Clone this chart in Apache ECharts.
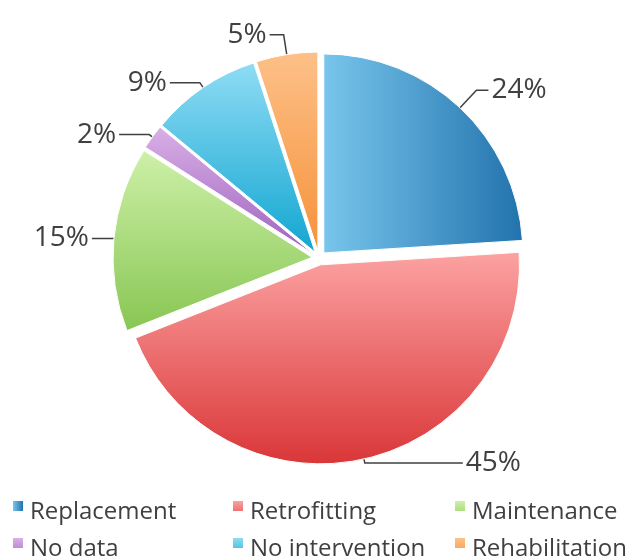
<!DOCTYPE html>
<html>
<head>
<meta charset="utf-8">
<script src="https://cdn.jsdelivr.net/npm/echarts@6/dist/echarts.min.js"></script>
<style>
  html, body { margin: 0; padding: 0; background: #fff; }
  #chart { width: 632px; height: 560px; }
</style>
</head>
<body>
<div id="chart"></div>
<script>
// Intervention categories and their shares (percent)
const categories = ['Replacement', 'Retrofitting', 'Maintenance', 'No data', 'No intervention', 'Rehabilitation'];
const shares = [24, 45, 15, 2, 9, 5];

// Gradient stops per slice: [light, dark, horizontal?]
const fills = [
  ['#78c6ec', '#2272ad', true],
  ['#fca2a2', '#da3638', false],
  ['#cdf0a8', '#88c653', false],
  ['#d9b0e6', '#9e62bf', false],
  ['#8fdcf4', '#12a6d1', false],
  ['#fdc088', '#f5923a', false]
];

// Leader line lengths per slice: [radial, horizontal]
const leaders = [
  [24, 12],
  [4, 98],
  [2, 20],
  [4, 30],
  [6, 30],
  [20, 14]
];

// Legend grid: which categories sit in each column (top row, bottom row)
const legendColumns = [
  [categories[0], categories[3]],
  [categories[1], categories[4]],
  [categories[2], categories[5]]
];

function gradient(f) {
  return new echarts.graphic.LinearGradient(0, 0, f[2] ? 1 : 0, f[2] ? 0 : 1, [
    { offset: 0, color: f[0] },
    { offset: 1, color: f[1] }
  ]);
}

const data = categories.map((name, i) => ({
  name: name,
  value: shares[i],
  selected: true,
  itemStyle: { color: gradient(fills[i]) },
  labelLine: { length: leaders[i][0], length2: leaders[i][1] }
}));

const textColor = '#404040';
const fontFamily = '"Open Sans", sans-serif';

// Square marker that sits in the upper part of the legend item box
const legendIcon = 'path://M0,0L10,0L10,10L0,10Z M0,22L10,22';

const colLeft = [13, 233, 455];
const rowTop = [500, 537];

const legends = [];
legendColumns.forEach((col, c) => {
  col.forEach((name, r) => {
    legends.push({
      orient: 'horizontal',
      left: colLeft[c],
      top: rowTop[r],
      padding: 0,
      itemWidth: 10,
      itemHeight: 22,
      icon: legendIcon,
      selectedMode: false,
      data: [name],
      itemStyle: { borderWidth: 0 },
      textStyle: { color: textColor, fontSize: 24, fontFamily: fontFamily, padding: [0, 0, 0, 2] }
    });
  });
});

const chart = echarts.init(document.getElementById('chart'), null, { renderer: 'canvas' });
chart.setOption({
  backgroundColor: '#ffffff',
  animation: false,
  legend: legends,
  series: [{
    type: 'pie',
    center: [319, 258],
    radius: 199,
    startAngle: 90,
    clockwise: true,
    selectedMode: 'multiple',
    selectedOffset: 7,
    avoidLabelOverlap: false,
    itemStyle: { borderColor: '#ffffff', borderWidth: 1 },
    select: { itemStyle: { borderColor: '#ffffff', borderWidth: 1 } },
    emphasis: { disabled: true },
    label: {
      show: true,
      position: 'outside',
      formatter: p => p.value + '%',
      color: textColor,
      fontSize: 28,
      fontFamily: fontFamily,
      distanceToLabelLine: 3
    },
    labelLine: {
      show: true,
      lineStyle: { color: '#404040', width: 1.5 }
    },
    data: data
  }]
});
</script>
</body>
</html>
